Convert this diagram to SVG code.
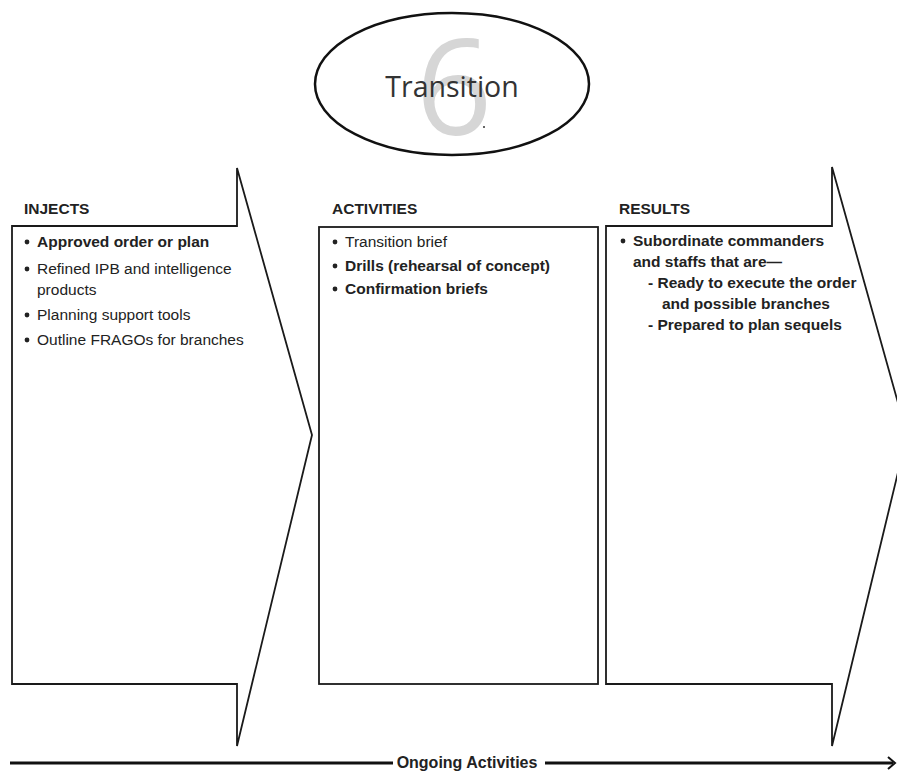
<svg xmlns="http://www.w3.org/2000/svg" width="897" height="772" viewBox="0 0 897 772">
<style>
.shape{fill:#fff;stroke:#1a1a1a;stroke-width:1.8;stroke-linejoin:miter}
.hd{font-family:"Liberation Sans",Arial,sans-serif;font-weight:bold;font-size:15.5px;fill:#222}
.t{font-family:"Liberation Sans",Arial,sans-serif;font-size:15.5px;fill:#222}
.b{font-weight:bold}
.dot{fill:#222}
</style>
<rect width="897" height="772" fill="#fff"/>
<g id="transition">
<ellipse cx="452" cy="84" rx="137" ry="71" fill="#fff" stroke="#111" stroke-width="2.5"/>
<text x="454" y="135" text-anchor="middle" font-family="'Open Sans','Liberation Sans',sans-serif" font-size="134" fill="#d6d6d6">6</text>
<text x="452" y="97" text-anchor="middle" font-family="'Open Sans','Liberation Sans',sans-serif" font-size="28.5" fill="#333">Transition</text>
<circle cx="484" cy="127" r="1" fill="#333"/>
</g>
<g id="injects">
<path class="shape" d="M12,226 L237,226 L237,168 L312,435 L237,746 L237,684 L12,684 Z"/>
<text class="hd" x="24" y="214">INJECTS</text>
<circle class="dot" cx="27" cy="242" r="2.4"/>
<text class="t b" x="37" y="247">Approved order or plan</text>
<circle class="dot" cx="27" cy="269" r="2.4"/>
<text class="t" x="37" y="274">Refined IPB and intelligence</text>
<text class="t" x="37" y="295">products</text>
<circle class="dot" cx="27" cy="315" r="2.4"/>
<text class="t" x="37" y="320">Planning support tools</text>
<circle class="dot" cx="27" cy="340" r="2.4"/>
<text class="t" x="37" y="345">Outline FRAGOs for branches</text>
</g>
<g id="activities">
<rect class="shape" x="319" y="227" width="279" height="457"/>
<text class="hd" x="332" y="214">ACTIVITIES</text>
<circle class="dot" cx="335" cy="242" r="2.4"/>
<text class="t" x="345" y="247">Transition brief</text>
<circle class="dot" cx="335" cy="266" r="2.4"/>
<text class="t b" x="345" y="271">Drills (rehearsal of concept)</text>
<circle class="dot" cx="335" cy="289" r="2.4"/>
<text class="t b" x="345" y="294">Confirmation briefs</text>
</g>
<g id="results">
<path class="shape" d="M606,226 L832,226 L832,167 L907,435 L832,746 L832,684 L606,684 Z"/>
<text class="hd" x="619" y="214">RESULTS</text>
<circle class="dot" cx="623" cy="241" r="2.4"/>
<text class="t b" x="633" y="246">Subordinate commanders</text>
<text class="t b" x="633" y="267">and staffs that are—</text>
<text class="t b" x="648" y="288">- Ready to execute the order</text>
<text class="t b" x="662" y="309">and possible branches</text>
<text class="t b" x="648" y="330">- Prepared to plan sequels</text>
</g>
<g id="connectors">
<line x1="10" y1="763" x2="393" y2="763" stroke="#111" stroke-width="3"/>
<line x1="545" y1="763" x2="893" y2="763" stroke="#111" stroke-width="3"/>
<path d="M888,757 L895,763 L888,769" fill="none" stroke="#111" stroke-width="2"/>
<text class="hd" x="467" y="768" text-anchor="middle" style="font-size:16px">Ongoing Activities</text>
</g>
</svg>
